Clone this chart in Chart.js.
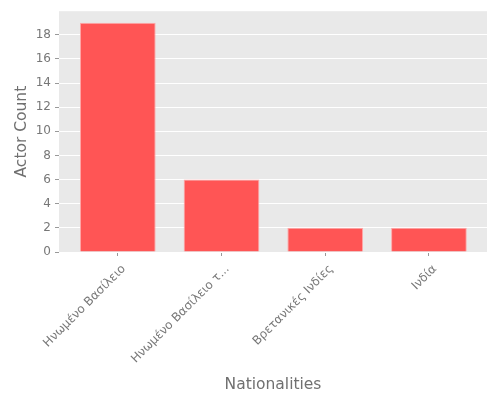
<!DOCTYPE html>
<html>
<head>
<meta charset="utf-8">
<script src="https://cdn.jsdelivr.net/npm/chart.js@4.4.0/dist/chart.umd.min.js"></script>
<style>
  html, body { margin: 0; padding: 0; background: #fff; }
  #wrap { width: 500px; height: 400px; }
</style>
</head>
<body>
<div id="wrap"><canvas id="chart"></canvas></div>
<script>
const nationalities = ['Ηνωμένο Βασίλειο', 'Ηνωμένο Βασίλειο τ...', 'Βρετανικές Ινδίες', 'Ινδία'];
const actorCounts = [19, 6, 2, 2];
const yTicks = [0, 2, 4, 6, 8, 10, 12, 14, 16, 18];

const FONT = 'DejaVu Sans';

// grey panel behind the bars, ggplot style
const panelBg = {
  id: 'panelBg',
  beforeDraw(chart) {
    const { ctx, chartArea: a } = chart;
    ctx.save();
    ctx.fillStyle = '#E9E9E9';
    ctx.fillRect(a.left, a.top, a.right - a.left, a.bottom - a.top);
    ctx.restore();
  }
};

const ctx = document.getElementById('chart').getContext('2d');
new Chart(ctx, {
  type: 'bar',
  data: {
    datasets: [{
      data: actorCounts.map((v, i) => ({ x: i, y: v })),
      backgroundColor: '#FF5555',
      borderColor: '#FFA8A8',
      borderWidth: 1,
      barPercentage: 0.73,
      categoryPercentage: 1
    }]
  },
  options: {
    responsive: true,
    maintainAspectRatio: false,
    animation: false,
    layout: { padding: { top: 10, right: 13, left: 0, bottom: 0 } },
    plugins: { legend: { display: false }, tooltip: { enabled: false } },
    scales: {
      x: {
        type: 'linear',
        offset: false,
        min: -0.567,
        max: 3.56,
        afterBuildTicks: (axis) => { axis.ticks = nationalities.map((_, i) => ({ value: i })); },
        afterFit: (axis) => { axis.height = 148; },
        border: { display: false },
        grid: { offset: false, drawOnChartArea: false, tickColor: '#999', tickLength: 4 },
        ticks: {
          callback: (v) => nationalities[v],
          minRotation: 45,
          maxRotation: 45,
          autoSkip: false,
          color: '#777',
          font: { family: FONT, size: 12 },
          padding: 6,
          labelOffset: 6
        },
        title: {
          display: true,
          text: 'Nationalities',
          color: '#707070',
          font: { family: FONT, size: 15.5 },
          padding: { top: 0, bottom: 6 }
        }
      },
      y: {
        min: 0,
        max: 19.95,
        afterBuildTicks: (axis) => { axis.ticks = yTicks.map(v => ({ value: v })); },
        afterFit: (axis) => { axis.width = 59; },
        border: { display: false },
        grid: { color: '#FFFFFF', lineWidth: 1, tickColor: '#999', tickLength: 4 },
        ticks: {
          color: '#777',
          font: { family: FONT, size: 12 },
          padding: 4
        },
        title: {
          display: true,
          text: 'Actor Count',
          color: '#707070',
          font: { family: FONT, size: 15.5 },
          padding: { top: 13, bottom: 4 }
        }
      }
    }
  },
  plugins: [panelBg]
});
</script>
</body>
</html>
